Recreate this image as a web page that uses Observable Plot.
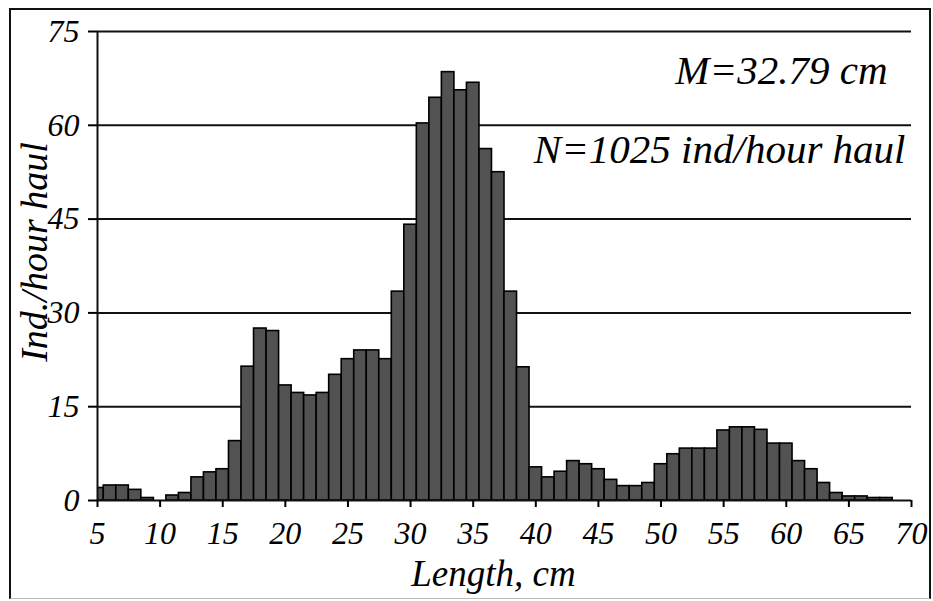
<!DOCTYPE html>
<html><head><meta charset="utf-8">
<script src="https://cdn.jsdelivr.net/npm/d3@7"></script>
<script src="https://cdn.jsdelivr.net/npm/@observablehq/plot@0.6"></script>
<style>
html,body{margin:0;padding:0;background:#fff;}
#wrap{position:relative;width:933px;height:601px;overflow:hidden;}
#wrap svg{position:absolute;left:0;top:0;}
#wrap svg, #wrap svg text, #wrap svg g{font-family:"Liberation Serif","Times New Roman",serif !important;font-style:italic !important;}
#frame{position:absolute;left:9px;top:8px;width:922px;height:591px;border:2px solid #111;border-bottom:1px solid #bbb;box-sizing:border-box;pointer-events:none;}
</style></head><body><div id="wrap"><div id="frame"></div></div>
<script>
const lengths = [5,6,7,8,9,10,11,12,13,14,15,16,17,18,19,20,21,22,23,24,25,26,27,28,29,30,31,32,33,34,35,36,37,38,39,40,41,42,43,44,45,46,47,48,49,50,51,52,53,54,55,56,57,58,59,60,61,62,63,64,65,66,67,68];
const counts = [2.0,2.4,2.4,1.7,0.4,0.0,0.8,1.2,3.7,4.5,5.0,9.5,21.4,27.5,27.1,18.4,17.2,16.8,17.2,20.1,22.6,24.0,24.0,22.6,33.4,44.1,60.3,64.4,68.5,65.6,66.8,56.2,52.5,33.4,21.3,5.3,3.7,4.6,6.3,5.8,5.0,3.3,2.3,2.3,2.8,5.8,7.4,8.3,8.3,8.3,11.2,11.7,11.7,11.3,9.1,9.1,6.3,5.0,2.8,1.2,0.65,0.65,0.4,0.4];
const xTicks = [5,10,15,20,25,30,35,40,45,50,55,60,65,70];
const yTicks = [0,15,30,45,60,75];
const gridValues = [15,30,45,60,75];
const annotations = ["M=32.79 cm", "N=1025 ind/hour haul"];
const xLabel = "Length, cm";
const yLabel = "Ind./hour haul";

const data = lengths.map((len, i) => ({len, value: counts[i]}));

const chart = Plot.plot({
  width: 933, height: 601,
  marginLeft: 97, marginRight: 22, marginTop: 31, marginBottom: 101,
  style: {fontSize: "32px", background: "transparent", color: "#000"},
  x: {type: "linear", domain: [5, 70]},
  y: {domain: [0, 75]},
  marks: [
    Plot.ruleY(gridValues, {stroke: "#111", strokeWidth: 2}),
    Plot.rectY(data, {x1: d => d.len - 0.5, x2: d => d.len + 0.5, y: "value", fill: "#525252", stroke: "#000", strokeWidth: 1.6, clip: true}),
    Plot.ruleX([5], {stroke: "#111", strokeWidth: 2}),
    Plot.ruleY([0], {stroke: "#111", strokeWidth: 2}),
    Plot.axisX({ticks: xTicks, tickSize: 7, tickPadding: 14, strokeWidth: 2, label: null, fontSize: 32}),
    Plot.axisY({ticks: yTicks, tickSize: 9, tickPadding: 9, strokeWidth: 2, label: null, fontSize: 32}),
    Plot.text([annotations[0]], {text: d => d, frameAnchor: "top-right", textAnchor: "end", lineAnchor: "bottom", dx: -24, dy: 52, fontSize: 41}),
    Plot.text([annotations[1]], {text: d => d, frameAnchor: "top-right", textAnchor: "end", lineAnchor: "bottom", dx: -6, dy: 131, fontSize: 41}),
    Plot.text([xLabel], {text: d => d, frameAnchor: "bottom", textAnchor: "middle", lineAnchor: "bottom", dx: -11, dy: 85, fontSize: 37}),
    Plot.text([yLabel], {text: d => d, frameAnchor: "left", textAnchor: "middle", rotate: -90, lineAnchor: "bottom", dx: -51, dy: -14, fontSize: 38})
  ]
});
document.getElementById("wrap").prepend(chart);
</script>
</body></html>
